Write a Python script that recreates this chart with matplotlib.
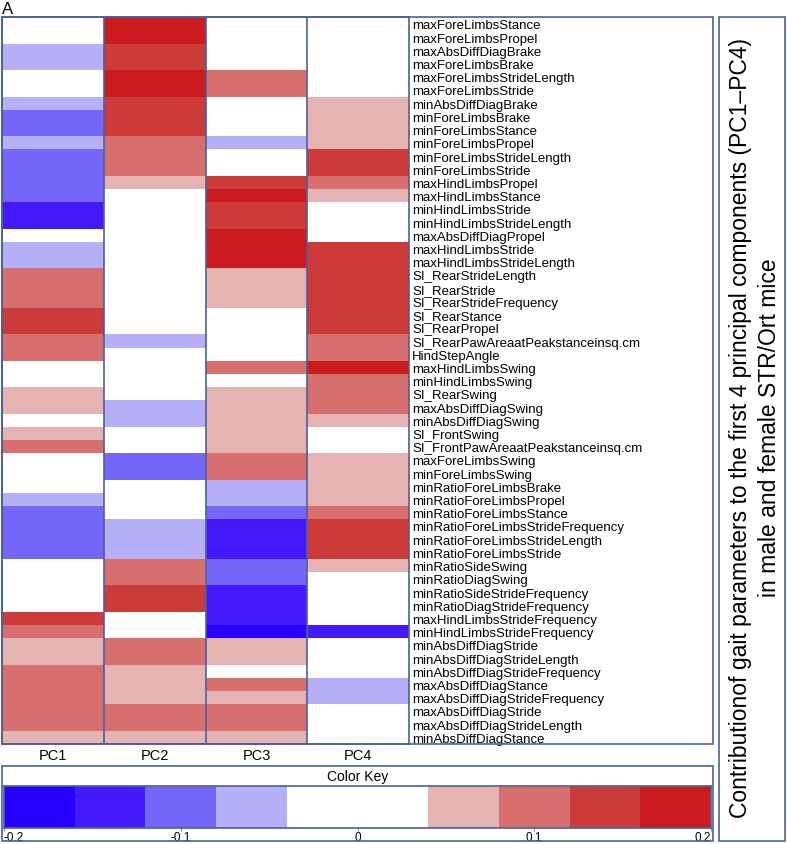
""" Heatmap of PC loadings for gait parameters. """
import numpy as np
import matplotlib
matplotlib.use('Agg')
import matplotlib.pyplot as plt
from matplotlib.colors import ListedColormap, BoundaryNorm
from matplotlib.patches import Rectangle

plt.rcParams['font.family'] = ['Liberation Sans', 'DejaVu Sans']

params = [
    'maxForeLimbsStance', 'maxForeLimbsPropel', 'maxAbsDiffDiagBrake', 'maxForeLimbsBrake',
    'maxForeLimbsStrideLength', 'maxForeLimbsStride', 'minAbsDiffDiagBrake', 'minForeLimbsBrake',
    'minForeLimbsStance', 'minForeLimbsPropel', 'minForeLimbsStrideLength', 'minForeLimbsStride',
    'maxHindLimbsPropel', 'maxHindLimbsStance', 'minHindLimbsStride', 'minHindLimbsStrideLength',
    'maxAbsDiffDiagPropel', 'maxHindLimbsStride', 'maxHindLimbsStrideLength', 'SI_RearStrideLength',
    'SI_RearStride', 'SI_RearStrideFrequency', 'SI_RearStance', 'SI_RearPropel',
    'SI_RearPawAreaatPeakstanceinsq.cm', 'HindStepAngle', 'maxHindLimbsSwing', 'minHindLimbsSwing',
    'SI_RearSwing', 'maxAbsDiffDiagSwing', 'minAbsDiffDiagSwing', 'SI_FrontSwing',
    'SI_FrontPawAreaatPeakstanceinsq.cm', 'maxForeLimbsSwing', 'minForeLimbsSwing',
    'minRatioForeLimbsBrake', 'minRatioForeLimbsPropel', 'minRatioForeLimbsStance',
    'minRatioForeLimbsStrideFrequency', 'minRatioForeLimbsStrideLength', 'minRatioForeLimbsStride',
    'minRatioSideSwing', 'minRatioDiagSwing', 'minRatioSideStrideFrequency',
    'minRatioDiagStrideFrequency', 'maxHindLimbsStrideFrequency', 'minHindLimbsStrideFrequency',
    'minAbsDiffDiagStride', 'minAbsDiffDiagStrideLength', 'minAbsDiffDiagStrideFrequency',
    'maxAbsDiffDiagStance', 'maxAbsDiffDiagStrideFrequency', 'maxAbsDiffDiagStride',
    'maxAbsDiffDiagStrideLength', 'minAbsDiffDiagStance',
]

components = ['PC1', 'PC2', 'PC3', 'PC4']

# loadings (read as bin midpoints of the colour key)
pc1 = [0, 0, -0.06, -0.06, 0, 0, -0.06, -0.10, -0.10, -0.06,
       -0.10, -0.10, -0.10, -0.10, -0.14, -0.14, 0, -0.06, -0.06, 0.10,
       0.10, 0.10, 0.14, 0.14, 0.10, 0.10, 0, 0, 0.06, 0.06,
       0, 0.06, 0.10, 0, 0, 0, -0.06, -0.10, -0.10, -0.10,
       -0.10, 0, 0, 0, 0, 0.14, 0.10, 0.06, 0.06, 0.10,
       0.10, 0.10, 0.10, 0.10, 0.06]
pc2 = [0.18, 0.18, 0.14, 0.14, 0.18, 0.18, 0.14, 0.14, 0.14, 0.10,
       0.10, 0.10, 0.06, 0, 0, 0, 0, 0, 0, 0,
       0, 0, 0, 0, -0.06, 0, 0, 0, 0, -0.06,
       -0.06, 0, 0, -0.10, -0.10, 0, 0, 0, -0.06, -0.06,
       -0.06, 0.10, 0.10, 0.14, 0.14, 0, 0, 0.10, 0.10, 0.06,
       0.06, 0.06, 0.10, 0.10, 0.06]
pc3 = [0, 0, 0, 0, 0.10, 0.10, 0, 0, 0, -0.06,
       0, 0, 0.14, 0.18, 0.14, 0.14, 0.18, 0.18, 0.18, 0.06,
       0.06, 0.06, 0, 0, 0, 0, 0.10, 0, 0.06, 0.06,
       0.06, 0.06, 0.06, 0.10, 0.10, -0.06, -0.06, -0.10, -0.14, -0.14,
       -0.14, -0.10, -0.10, -0.14, -0.14, -0.14, -0.18, 0.06, 0.06, 0,
       0.10, 0.06, 0.10, 0.10, 0.06]
pc4 = [0, 0, 0, 0, 0, 0, 0.06, 0.06, 0.06, 0.06,
       0.14, 0.14, 0.10, 0.06, 0, 0, 0, 0.14, 0.14, 0.14,
       0.14, 0.14, 0.14, 0.14, 0.10, 0.10, 0.18, 0.10, 0.10, 0.10,
       0.06, 0, 0, 0.06, 0.06, 0.06, 0.06, 0.10, 0.14, 0.14,
       0.14, 0.06, 0, 0, 0, 0, -0.14, 0, 0, 0,
       -0.06, -0.06, 0, 0, 0]

key_bounds = [-0.2, -0.16, -0.12, -0.08, -0.04, 0, 0.04, 0.08, 0.12, 0.16, 0.2]
key_colors = ['#2800ff', '#4419fb', '#7466f8', '#b5b0f8', '#ffffff',
              '#ffffff', '#e6b3b3', '#d76f6f', '#cd3a3a', '#cb1b1f']

W, H = 787, 845
EDGE = '#4a5f9a'


def fig_rect(x0, y0, x1, y1):
    """ Pixel box (top-left origin) to figure fraction rect. """
    return [x0 / W, 1 - y1 / H, (x1 - x0) / W, (y1 - y0) / H]


cmap = ListedColormap(key_colors)
norm = BoundaryNorm(key_bounds, cmap.N)

fig = plt.figure(figsize=(W / 100, H / 100), dpi=100)

# main heatmap
data = np.column_stack([pc1, pc2, pc3, pc4])
ax = fig.add_axes(fig_rect(1.7, 18.3, 409.3, 745))
ax.pcolormesh(np.arange(len(components) + 1), np.arange(len(params) + 1), data,
              cmap=cmap, norm=norm)
ax.set_xlim(0, len(components))
ax.set_ylim(len(params), 0)
for xv in range(1, len(components)):
    ax.axvline(xv, color=EDGE, lw=1.2)
ax.set_xticks(np.arange(len(components)) + 0.5)
ax.set_xticklabels(components, fontsize=10.5)
ax.set_yticks(np.arange(len(params)) + 0.5)
ax.set_yticklabels(params, fontsize=9.5)
ax.yaxis.tick_right()
ax.tick_params(length=0)
ax.tick_params(axis='y', pad=2)
ax.tick_params(axis='x', pad=3)
for sp in ax.spines.values():
    sp.set_color(EDGE)
    sp.set_linewidth(1.2)

# frames
for x0, y0, x1, y1 in [(1.7, 18.3, 713, 745), (1.7, 767, 713, 842), (719, 18.3, 785, 842)]:
    r = fig_rect(x0, y0, x1, y1)
    fig.patches.append(Rectangle((r[0], r[1]), r[2], r[3], transform=fig.transFigure,
                                 fill=False, edgecolor=EDGE, lw=1.2))

fig.text(2 / W, 1 - 9 / H, 'A', fontsize=12, va='center', ha='left')

# colour key
fig.text(358 / W, 1 - 777 / H, 'Color Key', fontsize=10, ha='center', va='center')
cax = fig.add_axes(fig_rect(4, 787, 711, 829))
mids = [(a + b) / 2 for a, b in zip(key_bounds[:-1], key_bounds[1:])]
cax.pcolormesh(key_bounds, [0, 1], [mids], cmap=cmap, norm=norm)
cax.set_xlim(-0.2, 0.2)
cax.set_yticks([])
cax.set_xticks([-0.2, -0.1, 0, 0.1, 0.2])
cax.set_xticklabels(['-0.2', '-0.1', '0', '0.1', '0.2'], fontsize=8.5)
cax.tick_params(axis='x', length=2, pad=0.5, color='#888888')
tl = cax.get_xticklabels()
tl[0].set_ha('left')
tl[-1].set_ha('right')
for sp in cax.spines.values():
    sp.set_color(EDGE)
    sp.set_linewidth(1.2)

# side title
fig.text(740 / W, 1 - 428 / H,
         'Contributionof gait parameters to the first 4 principal components (PC1\u2013PC4)',
         rotation=90, fontsize=16.5, ha='center', va='center')
fig.text(769 / W, 1 - 428 / H, 'in male and female STR/Ort mice',
         rotation=90, fontsize=16.5, ha='center', va='center')

fig.savefig('out.png', dpi=100)
